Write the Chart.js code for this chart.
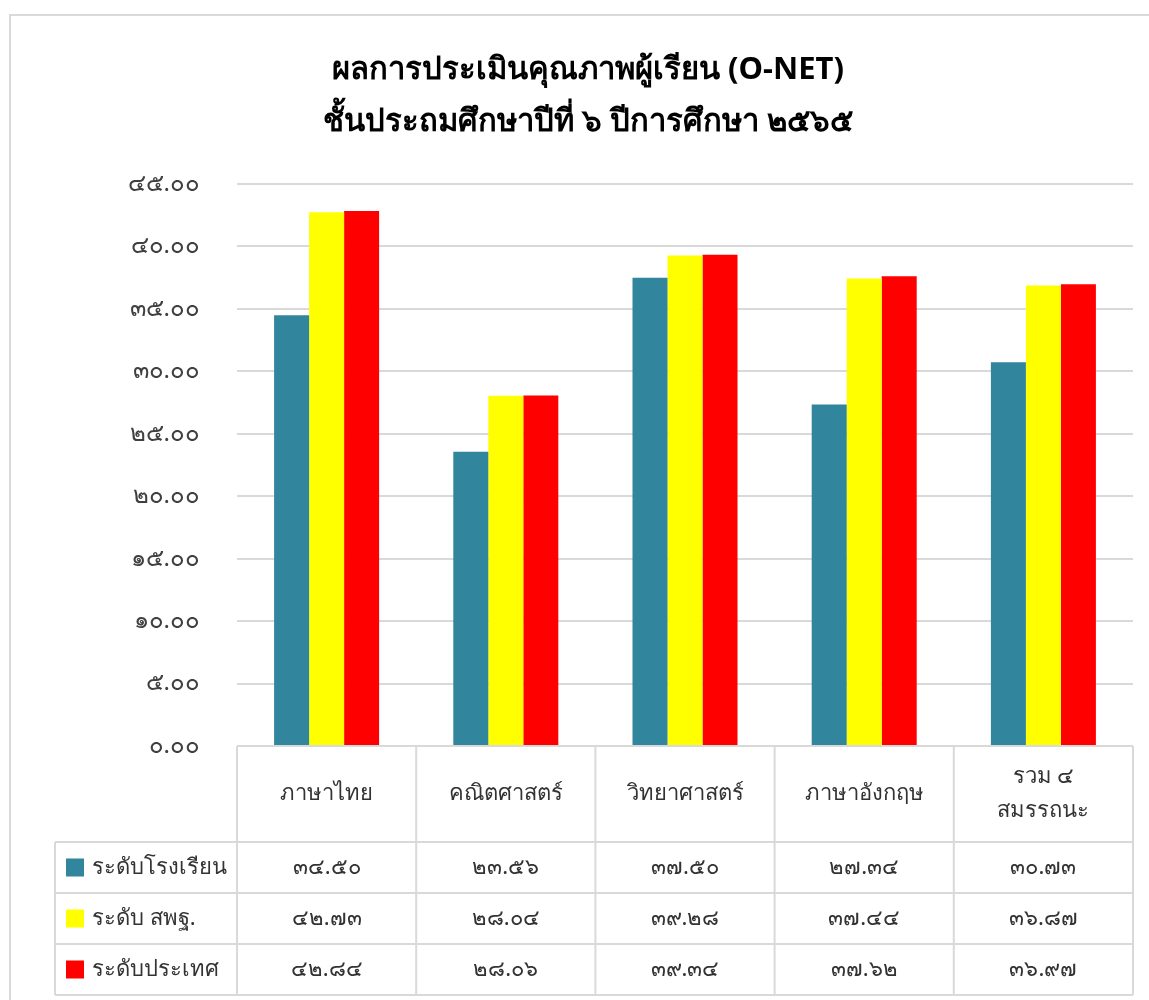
<!DOCTYPE html>
<html>
<head>
<meta charset="utf-8">
<script src="https://cdn.jsdelivr.net/npm/chart.js@4"></script>
<style>
  html, body { margin: 0; padding: 0; background: #fff; }
  #wrap { width: 1149px; height: 1000px; }
</style>
</head>
<body>
<div id="wrap"><canvas id="onet-chart"></canvas></div>
<script>
const titleLines = ['ผลการประเมินคุณภาพผู้เรียน (O-NET)', 'ชั้นประถมศึกษาปีที่ ๖ ปีการศึกษา ๒๕๖๕'];
const subjects = ['ภาษาไทย', 'คณิตศาสตร์', 'วิทยาศาสตร์', 'ภาษาอังกฤษ', ['รวม ๔', 'สมรรถนะ']];
const seriesNames = ['ระดับโรงเรียน', 'ระดับ สพฐ.', 'ระดับประเทศ'];
const schoolScores = [34.50, 23.56, 37.50, 27.34, 30.73];
const obecScores = [42.73, 28.04, 39.28, 37.44, 36.87];
const nationScores = [42.84, 28.06, 39.34, 37.62, 36.97];
const seriesColors = ['#31859c', '#ffff00', '#ff0000'];

const fontFamily = '"Noto Sans", "DejaVu Sans", sans-serif';
const gridColor = '#d9d9d9';

function thaiDigits(str) {
    return String(str).replace(/[0-9]/g, d => String.fromCharCode(0x0E50 + Number(d)));
}

// title, outer border and the data table under the plot
const tablePlugin = {
    id: 'dataTable',
    afterDraw(chart) {
        const ctx = chart.ctx;
        const area = chart.chartArea;
        const xScale = chart.scales.x;
        const n = subjects.length;
        const colW = (area.right - area.left) / n;
        const headTop = area.bottom;
        const headBottom = 842;
        const rowH = 51;
        const labelLeft = 55;

        ctx.save();

        // outer border
        ctx.strokeStyle = gridColor;
        ctx.lineWidth = 2;
        ctx.beginPath();
        ctx.moveTo(10, 1000);
        ctx.lineTo(10, 15);
        ctx.lineTo(1149, 15);
        ctx.stroke();

        // title
        ctx.fillStyle = '#000';
        ctx.textAlign = 'center';
        ctx.textBaseline = 'middle';
        ctx.font = 'bold 31px ' + fontFamily;
        ctx.fillText(titleLines[0], 588, 70);
        ctx.fillText(titleLines[1], 588, 122);

        // table lines
        ctx.strokeStyle = gridColor;
        ctx.lineWidth = 2;
        ctx.beginPath();
        for (let i = 0; i <= n; i++) {
            const x = area.left + i * colW;
            ctx.moveTo(x, headTop);
            ctx.lineTo(x, headBottom + rowH * seriesNames.length);
        }
        ctx.moveTo(labelLeft, headBottom);
        ctx.lineTo(labelLeft, headBottom + rowH * seriesNames.length);
        for (let r = 0; r <= seriesNames.length; r++) {
            const y = headBottom + r * rowH;
            ctx.moveTo(labelLeft, y);
            ctx.lineTo(area.right, y);
        }
        ctx.stroke();

        // header labels
        ctx.fillStyle = '#333';
        ctx.font = '22px ' + fontFamily;
        subjects.forEach((s, i) => {
            const cx = xScale.getPixelForValue(i);
            const lines = Array.isArray(s) ? s : [s];
            const lh = 34;
            const mid = (headTop + headBottom) / 2;
            lines.forEach((t, k) => {
                ctx.fillText(t, cx, mid + (k - (lines.length - 1) / 2) * lh);
            });
        });

        // rows
        const rows = [schoolScores, obecScores, nationScores];
        rows.forEach((vals, r) => {
            const cy = headBottom + r * rowH + rowH / 2;
            ctx.fillStyle = seriesColors[r];
            ctx.fillRect(66, cy - 9, 18, 18);
            ctx.fillStyle = '#333';
            ctx.textAlign = 'left';
            ctx.font = '22px ' + fontFamily;
            ctx.fillText(seriesNames[r], 92, cy);
            ctx.textAlign = 'center';
            ctx.font = '22px ' + fontFamily;
            vals.forEach((v, i) => {
                ctx.fillText(thaiDigits(v.toFixed(2)), xScale.getPixelForValue(i), cy);
            });
        });

        ctx.restore();
    }
};

new Chart(document.getElementById('onet-chart'), {
    type: 'bar',
    data: {
        labels: subjects,
        datasets: [
            { label: seriesNames[0], data: schoolScores, backgroundColor: seriesColors[0] },
            { label: seriesNames[1], data: obecScores, backgroundColor: seriesColors[1] },
            { label: seriesNames[2], data: nationScores, backgroundColor: seriesColors[2] }
        ]
    },
    options: {
        responsive: true,
        maintainAspectRatio: false,
        animation: false,
        datasets: {
            bar: { categoryPercentage: 0.586, barPercentage: 1.0 }
        },
        layout: {
            padding: { top: 184, right: 16, bottom: 254, left: 0 }
        },
        plugins: {
            legend: { display: false },
            title: { display: false },
            tooltip: { enabled: false }
        },
        scales: {
            x: {
                display: false
            },
            y: {
                min: 0,
                max: 45,
                afterFit(scale) { scale.width = 237; },
                border: { display: false },
                grid: { color: gridColor, lineWidth: 2, drawTicks: false },
                ticks: {
                    stepSize: 5,
                    padding: 37,
                    color: '#404040',
                    font: { family: fontFamily, size: 24 },
                    callback: v => thaiDigits(Number(v).toFixed(2))
                }
            }
        }
    },
    plugins: [tablePlugin]
});
</script>
</body>
</html>
